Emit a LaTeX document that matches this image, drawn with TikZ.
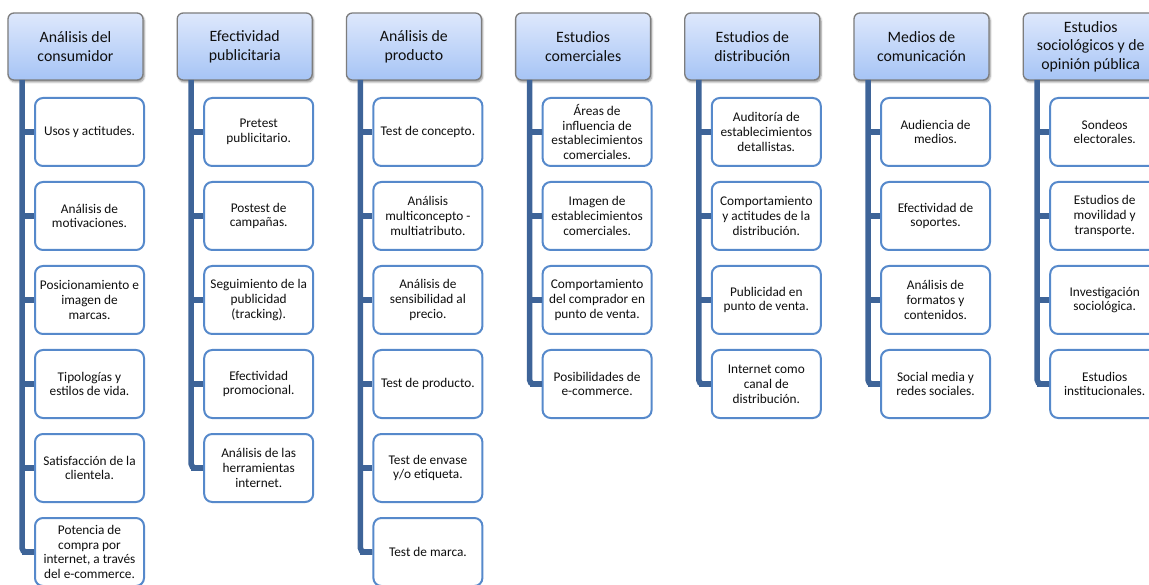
\documentclass[tikz,border=0pt]{standalone}
\usepackage{fontspec}
\setmainfont{Carlito}
\usetikzlibrary{shadows.blur}

\definecolor{trunkblue}{RGB}{62,100,152}
\definecolor{itemline}{RGB}{86,137,203}
\definecolor{headtop}{RGB}{222,232,252}
\definecolor{headbot}{RGB}{166,196,245}
\definecolor{headline}{RGB}{125,125,125}
\definecolor{inktext}{RGB}{15,15,15}

\tikzset{
  head/.style={draw=headline, line width=1.3pt, rounded corners=6pt,
    top color=headtop, bottom color=headbot,
    minimum width=135pt, minimum height=67pt, inner sep=2pt,
    align=center, text=inktext, font=\fontsize{15.8}{18.7}\selectfont,
    blur shadow={shadow xshift=1.2pt, shadow yshift=-2pt, shadow blur steps=6, shadow opacity=45}},
  item/.style={draw=itemline, line width=2pt, rounded corners=8pt, fill=white,
    minimum width=109pt, minimum height=68pt, inner sep=2pt,
    align=center, text=inktext, font=\fontsize{13.3}{14.8}\selectfont},
  trunk/.style={draw=trunkblue, line width=5.5pt, rounded corners=4pt}
}

% One column of the hierarchy: index, heading, number of entries, entries
\newcommand\studycolumn[4]{%
  \pgfmathsetmacro\hx{8+169.2*#1}%
  \node[head] (h#1) at (\hx+67.5,46.5) {#2};
  \foreach \txt [count=\k] in {#4} {
    \node[item] (c#1-\k) at (\hx+81.5,{132+84*(\k-1)}) {\txt};
  }
  \coordinate (t#1) at (\hx+14,80);
  \draw[trunk] (t#1) |- (c#1-#3.west);
  \foreach \k in {1,...,#3} {\draw[trunk] (t#1 |- c#1-\k.west) -- (c#1-\k.west);}
}

\begin{document}
\begin{tikzpicture}[x=1pt,y=-1pt]
\useasboundingbox (0,0) rectangle (1149,585);
\clip (0,0) rectangle (1149,585);

\studycolumn{0}{Análisis del\\consumidor}{6}{
  {Usos y actitudes.},
  {Análisis de\\motivaciones.},
  {Posicionamiento e\\imagen de\\marcas.},
  {Tipologías y\\estilos de vida.},
  {Satisfacción de la\\clientela.},
  {Potencia de\\compra por\\internet, a través\\del e-commerce.}}

\studycolumn{1}{Efectividad\\publicitaria}{5}{
  {Pretest\\publicitario.},
  {Postest de\\campañas.},
  {Seguimiento de la\\publicidad\\(tracking).},
  {Efectividad\\promocional.},
  {Análisis de las\\herramientas\\internet.}}

\studycolumn{2}{Análisis de\\producto}{6}{
  {Test de concepto.},
  {Análisis\\multiconcepto -\\multiatributo.},
  {Análisis de\\sensibilidad al\\precio.},
  {Test de producto.},
  {Test de envase\\y/o etiqueta.},
  {Test de marca.}}

\studycolumn{3}{Estudios\\comerciales}{4}{
  {Áreas de\\influencia de\\establecimientos\\comerciales.},
  {Imagen de\\establecimientos\\comerciales.},
  {Comportamiento\\del comprador en\\punto de venta.},
  {Posibilidades de\\e-commerce.}}

\studycolumn{4}{Estudios de\\distribución}{4}{
  {Auditoría de\\establecimientos\\detallistas.},
  {Comportamiento\\y actitudes de la\\distribución.},
  {Publicidad en\\punto de venta.},
  {Internet como\\canal de\\distribución.}}

\studycolumn{5}{Medios de\\comunicación}{4}{
  {Audiencia de\\medios.},
  {Efectividad de\\soportes.},
  {Análisis de\\formatos y\\contenidos.},
  {Social media y\\redes sociales.}}

\studycolumn{6}{Estudios\\sociológicos y de\\opinión pública}{4}{
  {Sondeos\\electorales.},
  {Estudios de\\movilidad y\\transporte.},
  {Investigación\\sociológica.},
  {Estudios\\institucionales.}}

\end{tikzpicture}
\end{document}
